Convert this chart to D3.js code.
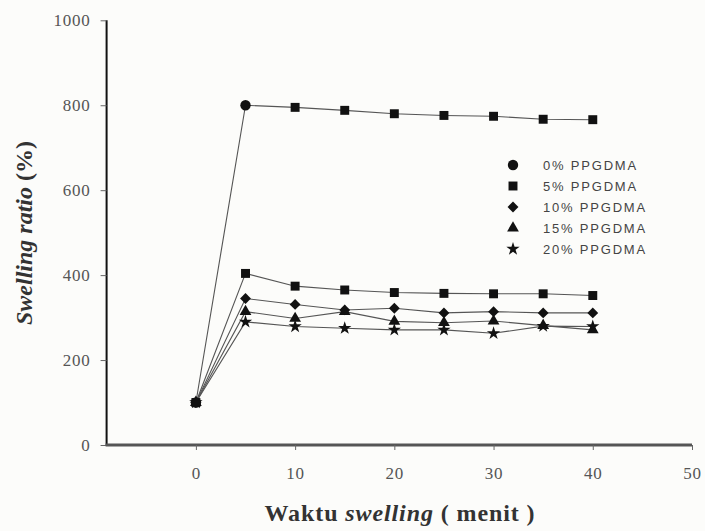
<!DOCTYPE html>
<html><head><meta charset="utf-8">
<script src="https://cdn.jsdelivr.net/npm/d3@7"></script>
<style>body{margin:0;background:#fcfcfa}svg{display:block}</style>
</head><body>
<script>
const times = [0,5,10,15,20,25,30,35,40];
const seriesNames = ["0% PPGDMA","5% PPGDMA","10% PPGDMA","15% PPGDMA","20% PPGDMA"];
const s0  = [100,800,795,788,780,776,774,767,766];
const s5  = [100,404,374,365,359,357,356,356,352];
const s10 = [100,345,331,318,322,311,314,311,311];
const s15 = [100,314,298,314,291,288,292,281,271];
const s20 = [100,290,279,275,271,271,263,280,279];
const seriesValues = [s0,s5,s10,s15,s20];
const seriesShapes = ["circle","square","diamond","triangle","star"];
const topSeriesShapes = ["circle","circle","square","square","square","square","square","square","square"];
const xTicks = [0,10,20,30,40,50];
const yTicks = [0,200,400,600,800,1000];

const W=705,H=531;
const svg=d3.select("body").append("svg").attr("width",W).attr("height",H);
svg.append("rect").attr("width",W).attr("height",H).attr("fill","#fcfcfa");
const x=d3.scaleLinear().domain([-9,50]).range([106.6,692]);
const y=d3.scaleLinear().domain([0,1000]).range([445,20.3]);
const symMap={circle:d3.symbolCircle,square:d3.symbolSquare,diamond:d3.symbolDiamond2,triangle:d3.symbolTriangle,star:d3.symbolStar};
const symSize={circle:85,square:80,diamond:75,triangle:60,star:55};
const sym=s=>d3.symbol().type(symMap[s]).size(symSize[s])();

// axes
const yAxis=svg.append("g").attr("transform",`translate(${x(-9)},0)`)
  .call(d3.axisLeft(y).tickValues(yTicks).tickSize(6).tickPadding(10).tickFormat(d3.format("d")));
const xAxis=svg.append("g").attr("transform",`translate(0,${y(0)})`)
  .call(d3.axisBottom(x).tickValues(xTicks).tickSize(5).tickPadding(17).tickFormat(d3.format("d")));
yAxis.select(".domain").attr("stroke","#111").attr("stroke-width",2).attr("d",`M0,${y(1000)}V${y(0)}`);
xAxis.select(".domain").attr("stroke","#555").attr("stroke-width",3).attr("d",`M${x(-9)-1},0H${x(50)}`);
svg.selectAll(".tick line").attr("stroke","#666").attr("stroke-width",1);
svg.selectAll(".tick text").attr("font-family","Liberation Serif, Times New Roman, serif").attr("font-size",17).attr("letter-spacing",0.8).attr("fill","#555");

// lines
const line=d3.line().x((d,i)=>x(times[i])).y(d=>y(d));
const g=svg.append("g");
seriesValues.forEach((vals,k)=>{
  g.append("path").attr("d",line(vals)).attr("fill","none").attr("stroke","#555").attr("stroke-width",1.1);
});
// markers (draw 0% last so it stays on top)
for(let k=seriesValues.length-1;k>=0;k--){
  const vals=seriesValues[k];
  g.selectAll(null).data(vals).enter().append("path")
    .attr("transform",(d,i)=>`translate(${x(times[i])},${y(d)})`)
    .attr("d",(d,i)=>sym(k===0?topSeriesShapes[i]:seriesShapes[k]))
    .attr("fill","#111");
}

// legend
const lg=svg.append("g");
seriesNames.forEach((n,i)=>{
  const yy=165+i*21;
  lg.append("path").attr("transform",`translate(513,${yy})`).attr("d",sym(seriesShapes[i])).attr("fill","#111");
  lg.append("text").attr("x",543).attr("y",yy+4.5).text(n)
    .attr("font-family","Liberation Sans, Arial, sans-serif").attr("font-size",13).attr("letter-spacing",1.8).attr("fill","#444");
});

// axis titles
const yt=svg.append("text").attr("transform","translate(32,233) rotate(-90)").attr("text-anchor","middle")
  .attr("font-family","Liberation Serif, Times New Roman, serif").attr("font-size",24).attr("font-weight","bold").attr("fill","#333");
yt.append("tspan").attr("font-style","italic").text("Swelling ratio");
yt.append("tspan").text(" (%)");
const xt=svg.append("text").attr("x",400).attr("y",521).attr("text-anchor","middle")
  .attr("font-family","Liberation Serif, Times New Roman, serif").attr("font-size",24).attr("letter-spacing",0.9).attr("font-weight","bold").attr("fill","#333");
xt.append("tspan").text("Waktu ");
xt.append("tspan").attr("font-style","italic").text("swelling");
xt.append("tspan").text(" ( menit )");
</script>
</body></html>
